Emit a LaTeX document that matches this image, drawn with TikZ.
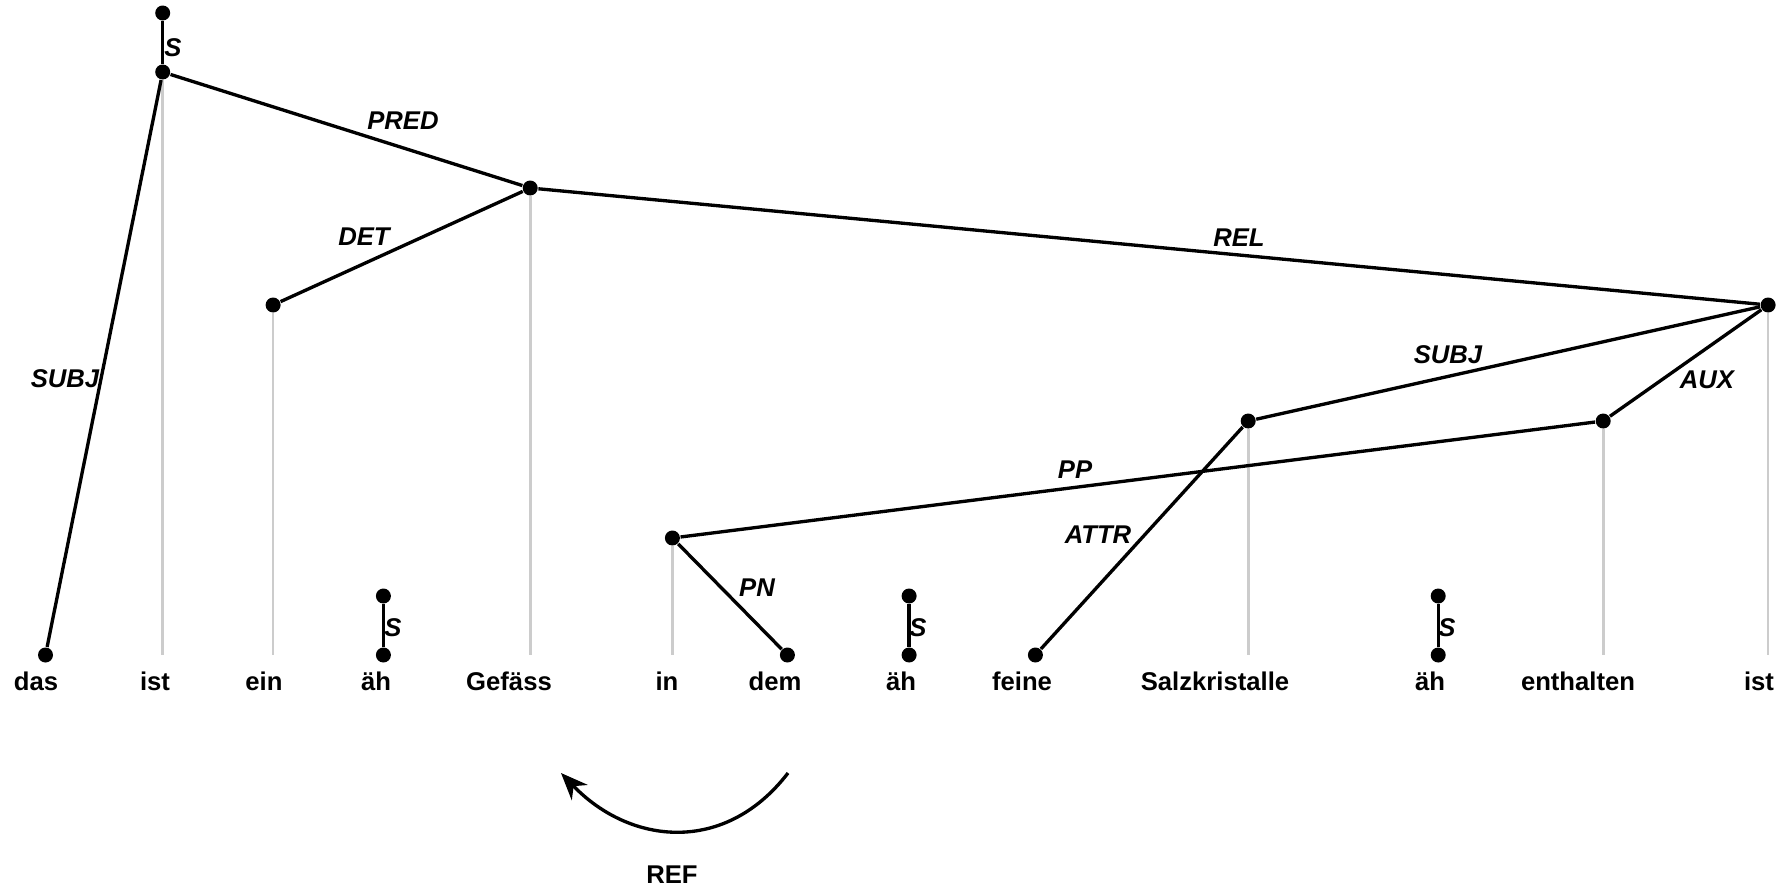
\documentclass[tikz,border=0pt]{standalone}
\usepackage{fontspec}
\setmainfont{Liberation Sans}
\usetikzlibrary{arrows.meta}

\begin{document}
\begin{tikzpicture}[
  dot/.style={circle,fill=black,inner sep=0pt,minimum size=0.15cm},
  word/.style={anchor=base,inner sep=0pt,font=\fontsize{7.3}{9}\selectfont\bfseries},
  lbl/.style={inner sep=0pt,font=\fontsize{7.3}{9}\selectfont\bfseries\itshape},
  dep/.style={line width=0.95pt,black},
  proj/.style={line width=0.75pt,black!20}]
\useasboundingbox (0,0) rectangle (17.84,8.85);
% dots of the tree
\node[dot] (S0) at (1.627,8.72) {};
\node[dot] (I) at (1.627,8.13) {};
\node[dot] (G) at (5.302,6.97) {};
\node[dot] (E) at (2.731,5.80) {};
\node[dot] (I2) at (17.681,5.80) {};
\node[dot] (K) at (12.482,4.64) {};
\node[dot] (H) at (16.032,4.64) {};
\node[dot] (N) at (6.724,3.47) {};
\node[dot] (D) at (0.455,2.30) {};
\node[dot] (M) at (7.874,2.30) {};
\node[dot] (F) at (10.354,2.30) {};
\node[dot] (A1) at (3.834,2.30) {};
\node[dot] (A2) at (9.091,2.30) {};
\node[dot] (A3) at (14.382,2.30) {};
\node[dot] (S1) at (3.834,2.89) {};
\node[dot] (S2) at (9.091,2.89) {};
\node[dot] (S3) at (14.382,2.89) {};
% words
\node[word] (Dw) at (0.36,1.95) {das};
\node[word] (Iw) at (1.55,1.95) {ist};
\node[word] (Ew) at (2.64,1.95) {ein};
\node[word] (A1w) at (3.76,1.95) {äh};
\node[word] (Gw) at (5.09,1.95) {Gefäss};
\node[word] (Nw) at (6.67,1.95) {in};
\node[word] (Mw) at (7.75,1.95) {dem};
\node[word] (A2w) at (9.01,1.95) {äh};
\node[word] (Fw) at (10.22,1.95) {feine};
\node[word] (Kw) at (12.15,1.95) {Salzkristalle};
\node[word] (A3w) at (14.30,1.95) {äh};
\node[word] (Hw) at (15.78,1.95) {enthalten};
\node[word] (I2w) at (17.59,1.95) {ist};
% grey lines down to the words
\draw[proj] (I) -- (I |- D);
\draw[proj] (E) -- (E |- D);
\draw[proj] (G) -- (G |- D);
\draw[proj] (N) -- (N |- D);
\draw[proj] (K) -- (K |- D);
\draw[proj] (H) -- (H |- D);
\draw[proj] (I2) -- (I2 |- D);
% dependencies
\draw[dep] (S0) -- (I);
\draw[dep] (I) -- (G);
\draw[dep] (I) -- (D);
\draw[dep] (G) -- (E);
\draw[dep] (G) -- (I2);
\draw[dep] (I2) -- (K);
\draw[dep] (I2) -- (H);
\draw[dep] (K) -- (F);
\draw[dep] (H) -- (N);
\draw[dep] (N) -- (M);
\draw[dep] (S1) -- (A1);
\draw[dep] (S2) -- (A2);
\draw[dep] (S3) -- (A3);
% labels of the edges
\node[lbl] (Ls0) at (1.73,8.37) {S};
\node[lbl] (Lpred) at (4.03,7.64) {PRED};
\node[lbl] (Ldet) at (3.64,6.48) {DET};
\node[lbl] (Lrel) at (12.39,6.47) {REL};
\node[lbl] (Lsubj) at (0.65,5.06) {SUBJ};
\node[lbl] (Lsubj2) at (14.48,5.30) {SUBJ};
\node[lbl] (Laux) at (17.07,5.05) {AUX};
\node[lbl] (Lpp) at (10.75,4.15) {PP};
\node[lbl] (Lattr) at (10.98,3.50) {ATTR};
\node[lbl] (Lpn) at (7.57,2.97) {PN};
\node[lbl] (Ls1) at (3.93,2.57) {S};
\node[lbl] (Ls2) at (9.18,2.57) {S};
\node[lbl] (Ls3) at (14.47,2.57) {S};
% reference arrow
\coordinate (r1) at (7.88,1.12);
\coordinate (r2) at (5.61,1.12);
\draw[dep,-{Stealth[length=2.7mm,width=2.2mm]}] (r1) .. controls (7.25,0.30) and (6.30,0.40) .. (r2);
\node[word] (Ref) at (6.72,0.02) {REF};
\end{tikzpicture}
\end{document}
